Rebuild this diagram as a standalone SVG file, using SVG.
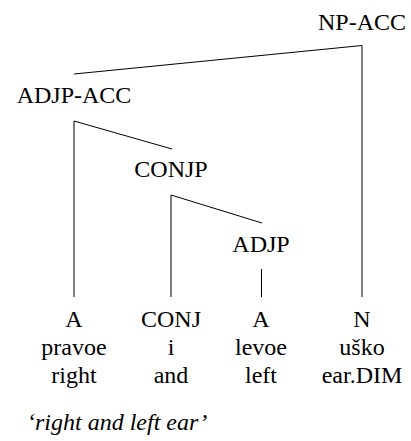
<svg xmlns="http://www.w3.org/2000/svg" width="411" height="441" viewBox="0 0 411 441">
  <style>
    .lbl { font-family: "Liberation Serif", "Times New Roman", serif; font-size: 24px; fill: #000; text-anchor: middle; }
    .gloss { font-family: "Liberation Serif", "Times New Roman", serif; font-size: 24px; font-style: italic; fill: #000; }
    .edge { stroke: #000; stroke-width: 1; fill: none; }
  </style>
  <rect width="411" height="441" fill="#fff"/>

  <!-- tree branches -->
  <g id="connectors">
    <polyline class="edge" points="74,74 362,45.5 362,297"/>
    <polyline class="edge" points="74,297 74,121 172,149"/>
    <polyline class="edge" points="171,297 171,195 262,223"/>
    <line class="edge" x1="261.5" y1="269" x2="261.5" y2="297"/>
  </g>

  <g id="np-acc"><text class="lbl" x="362" y="30">NP-ACC</text></g>
  <g id="adjp-acc"><text class="lbl" x="74" y="103">ADJP-ACC</text></g>
  <g id="conjp"><text class="lbl" x="171" y="177">CONJP</text></g>
  <g id="adjp"><text class="lbl" x="261" y="252">ADJP</text></g>

  <g id="leaf-a1">
    <text class="lbl" x="74" y="327">A</text>
    <text class="lbl" x="74" y="355">pravoe</text>
    <text class="lbl" x="74" y="383">right</text>
  </g>
  <g id="leaf-conj">
    <text class="lbl" x="171" y="327">CONJ</text>
    <text class="lbl" x="171" y="355">i</text>
    <text class="lbl" x="171" y="383">and</text>
  </g>
  <g id="leaf-a2">
    <text class="lbl" x="261" y="327">A</text>
    <text class="lbl" x="261" y="355">levoe</text>
    <text class="lbl" x="261" y="383">left</text>
  </g>
  <g id="leaf-n">
    <text class="lbl" x="362" y="327">N</text>
    <text class="lbl" x="362" y="355">uško</text>
    <text class="lbl" x="362" y="383">ear.DIM</text>
  </g>

  <g id="translation"><text class="gloss" x="27" y="430">‘right and left ear’</text></g>
</svg>
